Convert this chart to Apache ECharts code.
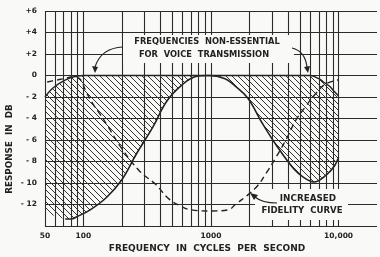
<!DOCTYPE html>
<html>
<head>
<meta charset="utf-8">
<script src="https://cdn.jsdelivr.net/npm/echarts@6/dist/echarts.min.js"></script>
<style>
html, body { margin: 0; padding: 0; background: #f9f9f7; }
#main { width: 380px; height: 257px; }
</style>
</head>
<body>
<div id="main"></div>
<script>
// curves, as [frequency in c/s, response in db]
var voiceCurve = [[72,-13.35],[80,-13.35],[90,-13.1],[113,-12.5],[153,-11.3],[200,-9.7],[260,-7.3],
    [350,-4.8],[450,-2.4],[590,-0.9],[760,-0.1],[960,0],[1290,-0.3],[1550,-1.0],[1940,-2.1],
    [2540,-4.5],[3300,-6.6],[4470,-8.7],[5350,-9.5],[6400,-9.9],[8100,-9.2],[9300,-8.4],[10000,-7.6]];
var flatCurve = [[50,-2],[55,-1.4],[60,-1],[70,-0.5],[80,-0.2],[90,-0.05],[100,0],
    [6000,0],[7000,-0.3],[7600,-0.6],[8500,-1.0],[9100,-1.4],[10000,-1.9]];
var fidelityCurve = [[52,-0.6],[60,-0.45],[70,-0.3],[85,-0.1],[95,-0.4],[104,-1.4],[118,-2.6],
    [135,-3.6],[157,-4.8],[200,-6.8],[276,-8.9],[366,-10.1],[470,-11.5],[590,-12.2],[700,-12.5],
    [1000,-12.6],[1370,-12.5],[1550,-12.0],[1900,-11.2],[2300,-10.3],[2700,-9.1],[3200,-7.7],
    [3900,-5.9],[4600,-4.2],[5500,-2.9],[6600,-1.7],[7900,-0.8],[10000,-0.4]];
// the hatching carries on below the solid curve to the 50 c/s line
var hatchLowEdge = [[60,-13.1],[50,-12.7]];
var voicePeak = 960;

var freqGrid = [50,60,70,80,90,100,200,300,400,500,600,700,800,900,
    1000,2000,3000,4000,5000,6000,7000,8000,9000,10000];
var freqLabels = {50: '50', 100: '100', 1000: '1000', 10000: '10,000'};

function pick(pts, test) {
    return pts.filter(function (p) { return test(p[0]); });
}
var hatchAreas = [
    pick(flatCurve, function (f) { return f < voicePeak; })
        .concat([[voicePeak, 0]], pick(voiceCurve, function (f) { return f <= voicePeak; }).reverse(), hatchLowEdge),
    [[voicePeak, 0]].concat(pick(flatCurve, function (f) { return f > voicePeak; }),
        pick(voiceCurve, function (f) { return f >= voicePeak; }).reverse())
];

// diagonal hatching tile
var hatch = document.createElement('canvas');
hatch.width = 6; hatch.height = 6;
var hc = hatch.getContext('2d');
hc.strokeStyle = '#333';
hc.lineWidth = 1;
hc.beginPath();
hc.moveTo(0, 0); hc.lineTo(6, 6);
hc.moveTo(-1, 5); hc.lineTo(1, 7);
hc.moveTo(5, -1); hc.lineTo(7, 1);
hc.stroke();

var ink = '#222';
var font = 'DejaVu Sans';
var paper = '#f9f9f7';

function label(x, y, text, size, rot) {
    return {
        type: 'text', z: 60, x: x, y: y, rotation: rot || 0,
        style: { text: text, fill: ink, font: 'bold ' + size + 'px ' + font, align: 'center', verticalAlign: 'middle' }
    };
}

var myChart = echarts.init(document.getElementById('main'));
var option = {
    backgroundColor: paper,
    animation: false,
    grid: { left: 45, right: -2, top: 11, bottom: 31 },
    xAxis: {
        type: 'log',
        logBase: 10,
        min: 50,
        max: 20000,
        axisLine: { show: false },
        axisTick: { show: false },
        splitLine: { show: false },
        axisLabel: {
            margin: 6,
            color: ink,
            fontFamily: font,
            fontSize: 7.5,
            fontWeight: 'bold',
            formatter: function (v) { return freqLabels[Math.round(v)] || ''; }
        }
    },
    yAxis: {
        type: 'value',
        min: -14,
        max: 6,
        interval: 2,
        axisLine: { show: false },
        axisTick: { show: false },
        splitLine: { lineStyle: { color: '#2b2b2b', width: 1.1 } },
        axisLabel: {
            margin: 8,
            color: ink,
            fontFamily: font,
            fontSize: 7.5,
            fontWeight: 'bold',
            formatter: function (v) {
                if (v === -14) return '';
                if (v > 0) return '+' + v;
                if (v < 0) return '- ' + (-v);
                return '0';
            }
        }
    },
    series: [
        {
            type: 'custom',
            silent: true,
            z: 1,
            data: hatchAreas.map(function () { return [50, 0]; }),
            encode: { x: 0, y: 1 },
            renderItem: function (params, api) {
                var pts = hatchAreas[params.dataIndex].map(function (p) { return api.coord(p); });
                return {
                    type: 'polygon',
                    shape: { points: pts },
                    style: { fill: { type: 'pattern', image: hatch, repeat: 'repeat' }, stroke: null }
                };
            }
        },
        {
            type: 'line',
            data: voiceCurve,
            smooth: 0.4,
            symbol: 'none',
            silent: true,
            z: 3,
            lineStyle: { color: ink, width: 1.6 },
            markLine: {
                silent: true,
                symbol: 'none',
                label: { show: false },
                lineStyle: { color: '#2b2b2b', width: 1.1, type: 'solid' },
                data: freqGrid.map(function (f) { return { xAxis: f }; })
            }
        },
        {
            type: 'line',
            data: flatCurve,
            smooth: 0.4,
            symbol: 'none',
            silent: true,
            z: 3,
            lineStyle: { color: ink, width: 1.4 }
        },
        {
            type: 'line',
            data: fidelityCurve,
            smooth: 0.4,
            symbol: 'none',
            silent: true,
            z: 3,
            lineStyle: { color: ink, width: 1.4, type: [6, 4] }
        }
    ],
    graphic: [
        { type: 'rect', z: 50, shape: { x: 123, y: 35, width: 171, height: 28 }, style: { fill: paper } },
        { type: 'rect', z: 50, shape: { x: 255, y: 189, width: 93, height: 31 }, style: { fill: paper } },
        label(207, 42, 'FREQUENCIES  NON-ESSENTIAL', 8.3),
        label(204, 55, 'FOR  VOICE  TRANSMISSION', 8.3),
        label(308, 199, 'INCREASED', 8.8),
        label(302, 211, 'FIDELITY  CURVE', 8.6),
        label(207, 249, 'FREQUENCY  IN  CYCLES  PER  SECOND', 9),
        label(10, 149, 'RESPONSE  IN  DB', 8.8, Math.PI / 2),
        // arrows
        { type: 'bezierCurve', z: 60, shape: { x1: 123, y1: 47, cpx1: 101, cpy1: 48, x2: 95, y2: 67 }, style: { stroke: ink, lineWidth: 1.2, fill: null } },
        { type: 'polygon', z: 60, shape: { points: [[92, 66], [98, 67], [95, 73]] }, style: { fill: ink } },
        { type: 'bezierCurve', z: 60, shape: { x1: 292, y1: 48, cpx1: 305, cpy1: 51, x2: 307, y2: 67 }, style: { stroke: ink, lineWidth: 1.2, fill: null } },
        { type: 'polygon', z: 60, shape: { points: [[304, 67], [310, 66], [308, 73]] }, style: { fill: ink } },
        { type: 'bezierCurve', z: 60, shape: { x1: 277, y1: 203, cpx1: 262, cpy1: 203, x2: 255, y2: 197 }, style: { stroke: ink, lineWidth: 1.2, fill: null } },
        { type: 'polygon', z: 60, shape: { points: [[250, 193], [258, 195], [254, 200]] }, style: { fill: ink } }
    ]
};
myChart.setOption(option);
</script>
</body>
</html>
